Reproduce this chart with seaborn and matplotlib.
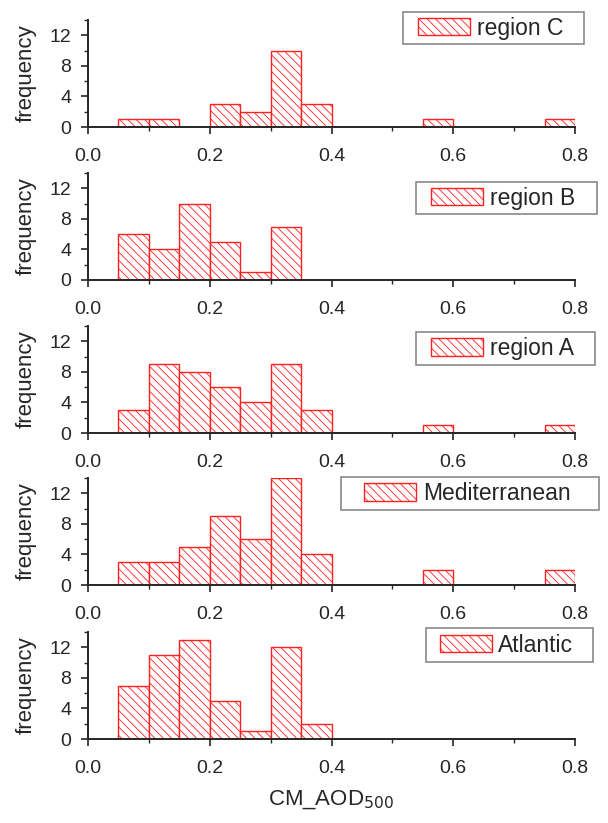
import numpy as np
import pandas as pd
import matplotlib
matplotlib.use("Agg")
import matplotlib.pyplot as plt
import seaborn as sns
from matplotlib.patches import Patch, Rectangle
from matplotlib.ticker import MultipleLocator

sns.set_style("ticks")
plt.rcParams['font.family'] = ['Liberation Sans', 'DejaVu Sans']
plt.rcParams['hatch.linewidth'] = 0.6

bin_edges = [0.05, 0.10, 0.15, 0.20, 0.25, 0.30, 0.35, 0.40, 0.45, 0.50, 0.55, 0.60, 0.65, 0.70, 0.75, 0.80]
regions = ["region C", "region B", "region A", "Mediterranean", "Atlantic"]
counts_region_c = [1, 1, 0, 3, 2, 10, 3, 0, 0, 0, 1, 0, 0, 0, 1]
counts_region_b = [6, 4, 10, 5, 1, 7, 0, 0, 0, 0, 0, 0, 0, 0, 0]
counts_region_a = [3, 9, 8, 6, 4, 9, 3, 0, 0, 0, 1, 0, 0, 0, 1]
counts_mediterranean = [3, 3, 5, 9, 6, 14, 4, 0, 0, 0, 2, 0, 0, 0, 2]
counts_atlantic = [7, 11, 13, 5, 1, 12, 2, 0, 0, 0, 0, 0, 0, 0, 0]
all_counts = [counts_region_c, counts_region_b, counts_region_a, counts_mediterranean, counts_atlantic]

edges = np.array(bin_edges)
centers = (edges[:-1] + edges[1:]) / 2

W, H = 608, 823
fig = plt.figure(figsize=(W / 100, H / 100), dpi=100)
left, width = 88 / W, (575 - 88) / W
axes_h = 107 / H
tops = [20, 173, 326, 478, 632]
# legend boxes in pixel coords: (x0, x1, y0, y1) from top-left
leg_boxes = [(403, 584, 12, 44), (416, 597, 182, 214), (416, 595, 332, 365),
             (341, 599, 477, 510), (426, 593, 628, 662)]

red = "#ff2020"
dark = "#262626"
for i, (name, counts, top) in enumerate(zip(regions, all_counts, tops)):
    bottom = 1 - (top + 107) / H
    ax = fig.add_axes([left, bottom, width, axes_h])
    df = pd.DataFrame({"x": centers, "w": counts})
    sns.histplot(data=df, x="x", weights="w", bins=list(bin_edges), ax=ax,
                 facecolor="white", edgecolor=red, linewidth=1.0,
                 hatch="\\\\\\\\", alpha=1.0)
    ax.set_xlim(0.0, 0.8)
    ax.set_ylim(0, 14)
    ax.xaxis.set_minor_locator(MultipleLocator(0.1))
    ax.yaxis.set_major_locator(MultipleLocator(4))
    ax.yaxis.set_minor_locator(MultipleLocator(2))
    ax.set_xticks([0.0, 0.2, 0.4, 0.6, 0.8])
    ax.set_xticklabels(["0.0", "0.2", "0.4", "0.6", "0.8"])
    for s in ["top", "right"]:
        ax.spines[s].set_visible(False)
    for s in ["left", "bottom"]:
        ax.spines[s].set_linewidth(1.4)
        ax.spines[s].set_color(dark)
        ax.spines[s].set_zorder(5)
    ax.tick_params(axis="x", which="major", pad=10)
    ax.tick_params(axis="y", which="major", pad=7)
    ax.tick_params(which="major", direction="out", length=5, width=1.2,
                   labelsize=14, colors=dark)
    ax.tick_params(which="minor", direction="out", length=3, width=1.0, colors=dark)
    ax.set_ylabel("frequency", fontsize=16, labelpad=9, color=dark)
    ax.set_xlabel("")
    ax.set_facecolor("white")

    x0, x1, y0, y1 = leg_boxes[i]
    ax.add_patch(Rectangle((x0 / W, 1 - y1 / H), (x1 - x0) / W, (y1 - y0) / H,
                           transform=fig.transFigure, facecolor="white",
                           edgecolor="#8a8a8a", linewidth=1.2, zorder=10,
                           clip_on=False))
    handle = Patch(facecolor="white", edgecolor=red, hatch="\\\\\\\\", linewidth=1.0)
    leg = ax.legend([handle], [name], loc="center",
                    bbox_to_anchor=(((x0 + x1) / 2 - 3) / W, 1 - ((y0 + y1) / 2) / H),
                    bbox_transform=fig.transFigure, borderaxespad=0,
                    fontsize=16.5, frameon=False, handlelength=2.27,
                    handleheight=0.79, borderpad=0.0, handletextpad=0.3,
                    labelcolor=dark)
    leg.set_zorder(11)

fig.text(331 / W, 1 - 800 / H, "CM_AOD$_{500}$", ha="center", va="center",
         fontsize=16, color=dark)
fig.savefig("out.png", dpi=100, facecolor="white")
